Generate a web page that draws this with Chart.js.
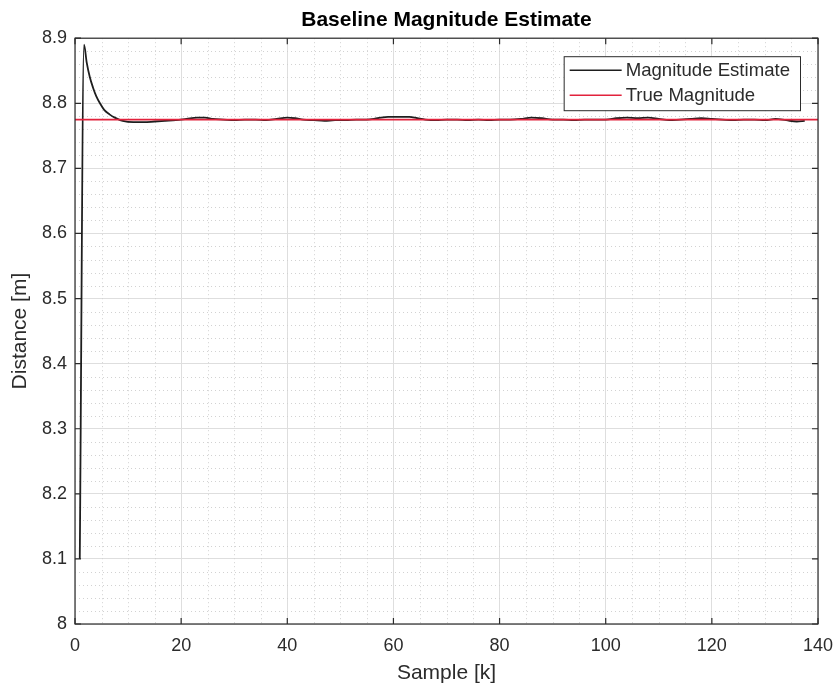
<!DOCTYPE html>
<html>
<head>
<meta charset="utf-8">
<title>Baseline Magnitude Estimate</title>
<script src="https://cdn.jsdelivr.net/npm/chart.js@4.4.1/dist/chart.umd.min.js"></script>
<style>
  html, body { margin: 0; padding: 0; background: #fff; }
  canvas { display: block; }
</style>
</head>
<body>
<canvas id="chart" width="838" height="686"></canvas>
<script>
// sample index in thousands
const sampleK = [0.9, 1.7, 2.2, 2.8, 3.4, 4.0, 4.7, 5.5, 6.5, 7.5,
  9, 11, 13, 15, 17, 19, 21, 23, 24.5, 26,
  28, 30, 32, 34, 36, 38, 40, 41.5, 43, 45,
  47, 49, 51, 53, 55, 57, 59, 61, 63, 64.5,
  66, 68, 70, 72, 74, 76, 78, 80, 82, 84,
  86, 88, 90, 92, 94, 96, 98, 100, 102, 104,
  106, 108, 110, 112, 114, 116, 118, 120, 122, 124,
  126, 128, 130, 132, 134, 136, 137.5]

const magnitudeEstimate = [8.1, 8.89, 8.863, 8.84, 8.824, 8.811, 8.80, 8.79, 8.783, 8.778,
  8.773, 8.771, 8.771, 8.772, 8.773, 8.774, 8.776, 8.778, 8.778, 8.776,
  8.775, 8.774, 8.775, 8.775, 8.774, 8.776, 8.778, 8.777, 8.775, 8.774,
  8.773, 8.774, 8.774, 8.775, 8.775, 8.777, 8.779, 8.779, 8.779, 8.777,
  8.775, 8.774, 8.775, 8.775, 8.774, 8.775, 8.774, 8.775, 8.775, 8.776,
  8.778, 8.777, 8.775, 8.775, 8.774, 8.775, 8.775, 8.775, 8.777, 8.778,
  8.777, 8.778, 8.776, 8.774, 8.775, 8.776, 8.777, 8.776, 8.775, 8.774,
  8.775, 8.775, 8.774, 8.776, 8.774, 8.772, 8.773]

const trueK = [0, 140]
const trueMagnitude = [8.775, 8.775]

const xTicks = [0, 20, 40, 60, 80, 100, 120, 140]
const yTicks = [8, 8.1, 8.2, 8.3, 8.4, 8.5, 8.6, 8.7, 8.8, 8.9]

const seriesLabels = ["Magnitude Estimate", "True Magnitude"]

const FONT = "'Liberation Sans', Arial, Helvetica, sans-serif"
const TEXT = '#2b2b2b'

// minor dotted grid, drawn under the data
const minorGrid = {
  id: 'minorGrid',
  beforeDatasetsDraw(chart) {
    const { ctx, chartArea: a, scales: { x, y } } = chart
    ctx.save()
    ctx.strokeStyle = '#d2d2d2'
    ctx.lineWidth = 1
    ctx.setLineDash([1, 3])
    for (let v = 5; v < 140; v += 5) {
      if (v % 20 === 0) continue
      const px = Math.round(x.getPixelForValue(v)) + 0.5
      ctx.beginPath(); ctx.moveTo(px, a.top); ctx.lineTo(px, a.bottom); ctx.stroke()
    }
    for (let i = 1; i < 45; i++) {
      if (i % 5 === 0) continue
      const py = Math.round(y.getPixelForValue(8 + i * 0.02)) + 0.5
      ctx.beginPath(); ctx.moveTo(a.left, py); ctx.lineTo(a.right, py); ctx.stroke()
    }
    ctx.restore()
  }
}

// box, inward ticks and the legend on top
const boxAndLegend = {
  id: 'boxAndLegend',
  afterDraw(chart) {
    const { ctx, chartArea: a, scales: { x, y } } = chart
    ctx.save()
    ctx.strokeStyle = TEXT
    ctx.lineWidth = 1.2
    ctx.strokeRect(a.left, a.top, a.right - a.left, a.bottom - a.top)

    ctx.beginPath()
    xTicks.forEach(v => {
      const px = x.getPixelForValue(v)
      ctx.moveTo(px, a.bottom); ctx.lineTo(px, a.bottom - 6)
      ctx.moveTo(px, a.top); ctx.lineTo(px, a.top + 6)
    })
    yTicks.forEach(v => {
      const py = y.getPixelForValue(v)
      ctx.moveTo(a.left, py); ctx.lineTo(a.left + 6, py)
      ctx.moveTo(a.right, py); ctx.lineTo(a.right - 6, py)
    })
    ctx.stroke()

    // legend
    ctx.font = '18.6px ' + FONT
    const widths = chart.data.datasets.map(d => ctx.measureText(d.label).width)
    const lineLen = 52
    const rowH = 25
    const boxW = 6 + lineLen + 4 + Math.max(...widths) + 10
    const boxH = 54
    const bx = a.right - 18 - boxW
    const by = a.top + 18
    ctx.fillStyle = '#fff'
    ctx.fillRect(bx, by, boxW, boxH)
    ctx.lineWidth = 1
    ctx.strokeStyle = TEXT
    ctx.strokeRect(bx + 0.5, by + 0.5, boxW, boxH)
    ctx.textBaseline = 'middle'
    chart.data.datasets.forEach((d, i) => {
      const ry = by + 14 + i * rowH
      ctx.strokeStyle = d.borderColor
      ctx.lineWidth = 1.6
      ctx.beginPath()
      ctx.moveTo(bx + 6, ry); ctx.lineTo(bx + 6 + lineLen, ry)
      ctx.stroke()
      ctx.fillStyle = TEXT
      ctx.fillText(d.label, bx + 6 + lineLen + 4, ry + 1)
    })
    ctx.restore()
  }
}

new Chart(document.getElementById('chart'), {
  type: 'line',
  data: {
    datasets: [{
      label: seriesLabels[0],
      data: sampleK.map((k, i) => ({ x: k, y: magnitudeEstimate[i] })),
      borderColor: '#1e1e1e',
      borderWidth: 1.8,
      pointRadius: 0,
      cubicInterpolationMode: 'monotone',
      order: 2
    }, {
      label: seriesLabels[1],
      data: trueK.map((k, i) => ({ x: k, y: trueMagnitude[i] })),
      borderColor: '#e2223c',
      borderWidth: 1.8,
      pointRadius: 0,
      order: 1
    }]
  },
  options: {
    responsive: false,
    animation: false,
    layout: { padding: { left: 0, right: 20, top: 0, bottom: 0 } },
    plugins: {
      legend: { display: false },
      tooltip: { enabled: false },
      title: {
        display: true,
        text: 'Baseline Magnitude Estimate',
        fullSize: false,
        color: '#000',
        font: { family: FONT, size: 21, weight: 'bold' },
        padding: { top: 8, bottom: 5 }
      }
    },
    scales: {
      x: {
        type: 'linear',
        min: 0,
        max: 140,
        afterBuildTicks: axis => { axis.ticks = xTicks.map(v => ({ value: v })) },
        afterFit: axis => {
          axis.height = 62
          axis.paddingLeft = 0
          axis.paddingRight = 0
        },
        ticks: {
          color: TEXT,
          padding: 11,
          maxRotation: 0,
          font: { family: FONT, size: 18 }
        },
        grid: { color: '#dedede', drawTicks: false },
        border: { display: false },
        title: {
          display: true,
          text: 'Sample [k]',
          color: TEXT,
          font: { family: FONT, size: 21 },
          padding: { top: 0, bottom: 0 }
        }
      },
      y: {
        min: 8,
        max: 8.9,
        afterBuildTicks: axis => { axis.ticks = yTicks.map(v => ({ value: v })) },
        afterFit: axis => { axis.width = 75 },
        ticks: {
          color: TEXT,
          padding: 8,
          font: { family: FONT, size: 18 },
          callback: v => String(Number(v.toFixed(1)))
        },
        grid: { color: '#dedede', drawTicks: false },
        border: { display: false },
        title: {
          display: true,
          text: 'Distance [m]',
          color: TEXT,
          font: { family: FONT, size: 21 },
          padding: { top: 8, bottom: 0 }
        }
      }
    }
  },
  plugins: [minorGrid, boxAndLegend]
})
</script>
</body>
</html>
